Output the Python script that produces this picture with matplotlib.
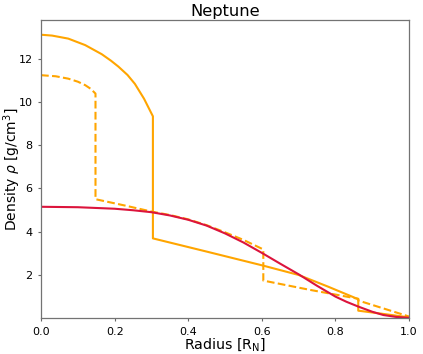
import numpy as np
import matplotlib
matplotlib.use("Agg")
import matplotlib.pyplot as plt

# solid orange model (core + mantle + envelope)
r_solid = [0.0, 0.03, 0.074, 0.12, 0.165, 0.19, 0.21, 0.235, 0.255, 0.28, 0.304,
           0.304, 0.45, 0.604, 0.70, 0.78, 0.862, 0.862, 0.93, 1.0]
rho_solid = [13.1, 13.06, 12.92, 12.62, 12.2, 11.9, 11.63, 11.24, 10.83, 10.14, 9.33,
             3.69, 3.08, 2.43, 2.0, 1.46, 0.88, 0.35, 0.2, 0.04]

# dashed orange model
r_dash = [0.0, 0.04, 0.074, 0.1, 0.12, 0.135, 0.148, 0.148, 0.23, 0.30, 0.35, 0.40, 0.45,
          0.50, 0.55, 0.604, 0.604, 0.731, 0.862, 0.862, 1.0]
rho_dash = [11.23, 11.18, 11.07, 10.93, 10.77, 10.6, 10.38, 5.5, 5.2, 4.93, 4.77, 4.57, 4.3,
            3.97, 3.62, 3.18, 1.74, 1.31, 0.9, 0.82, 0.08]

# red smooth model
r_red = [0.0, 0.1, 0.2, 0.25, 0.3, 0.35, 0.4, 0.45, 0.5, 0.55, 0.6, 0.65, 0.7, 0.75,
         0.8, 0.83, 0.862, 0.9, 0.93, 0.965, 1.0]
rho_red = [5.15, 5.13, 5.06, 4.99, 4.9, 4.75, 4.55, 4.28, 3.92, 3.5, 3.02, 2.52, 2.03, 1.5,
           1.0, 0.76, 0.54, 0.3, 0.15, 0.06, 0.02]

fig = plt.figure(figsize=(4.23, 3.54), dpi=100)
ax = fig.add_axes([0.097, 0.101, 0.87, 0.8425])

ax.plot(r_solid, rho_solid, "-", color="orange", lw=1.5)
ax.plot(r_dash, rho_dash, "--", color="orange", lw=1.5)
ax.plot(r_red, rho_red, "-", color="crimson", lw=1.5)

ax.set_xlim(0, 1)
ax.set_ylim(0, 13.78)
ax.set_xticks(np.arange(0, 1.01, 0.2))
ax.set_yticks([2, 4, 6, 8, 10, 12])
ax.tick_params(labelsize=8, length=2.5, width=0.8, color="0.4")
for s in ax.spines.values():
    s.set_color("0.45")
    s.set_linewidth(0.9)

ax.set_title("Neptune", fontsize=11.7, pad=3)
ax.set_xlabel(r"Radius [R$_\mathrm{N}$]", fontsize=10.2, labelpad=0)
ax.set_ylabel(r"Density $\rho$ [g/cm$^3$]", fontsize=10)
ax.yaxis.set_label_coords(-0.05, 0.5)

fig.savefig("out.png", dpi=100)
